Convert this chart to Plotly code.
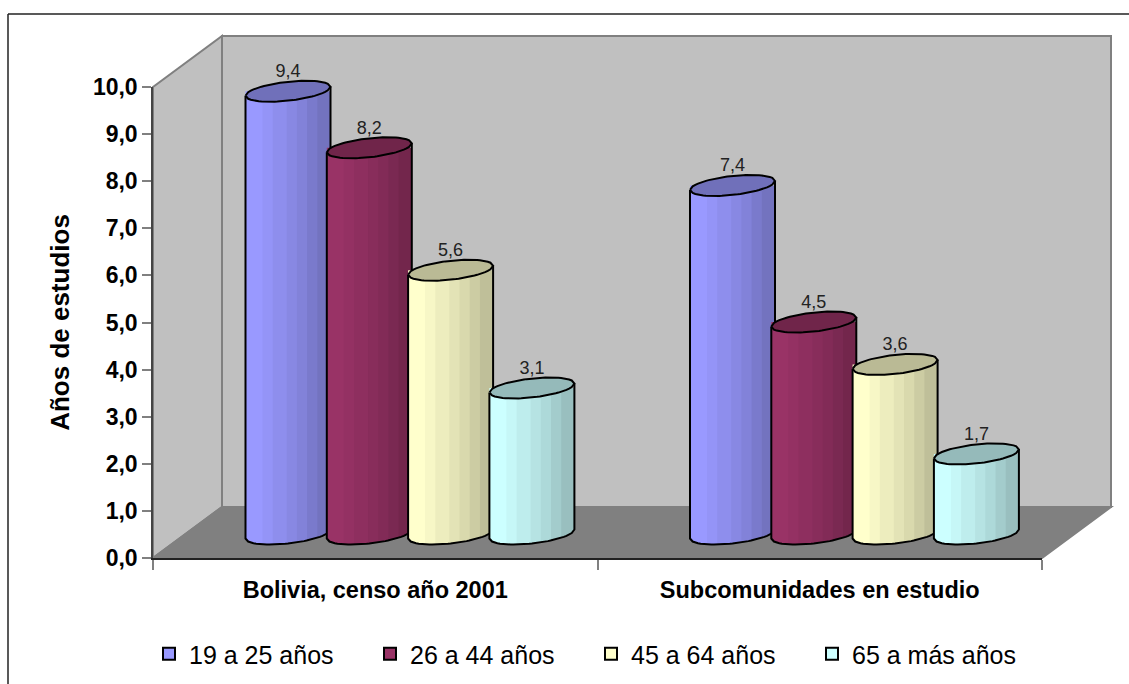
import plotly.graph_objects as go

categories = ["Bolivia, censo año 2001", "Subcomunidades en estudio"]
series_names = ["19 a 25 años", "26 a 44 años", "45 a 64 años", "65 a más años"]
values_19_25 = [9.4, 7.4]
values_26_44 = [8.2, 4.5]
values_45_64 = [5.6, 3.6]
values_65_mas = [3.1, 1.7]
all_values = [values_19_25, values_26_44, values_45_64, values_65_mas]
base_rgb = [(153, 153, 255), (153, 51, 102), (255, 255, 204), (204, 255, 255)]
y_ticks = [0, 1, 2, 3, 4, 5, 6, 7, 8, 9, 10]
y_tick_labels = ["0,0", "1,0", "2,0", "3,0", "4,0", "5,0", "6,0", "7,0", "8,0", "9,0", "10,0"]
band_edges = [-1.0, -0.57, -0.33, 0.0, 0.24, 0.48, 0.72, 1.0]
band_shades = [1.0, 0.97, 0.93, 0.89, 0.85, 0.80, 0.75]
cap_shade = 0.73

W, H = 1129, 684
L, R, T, B = 153, 87, 36, 126
PW, PH = W - L - R, H - T - B
FRONT_H = 471            # pixel height of the front y axis (0 to 10)
PX_X = PW / 2.0
PX_Y = FRONT_H / 10.0
DX, DY = 69 / PW, 51 / PH   # depth offset of the 3D box, in paper units
FT = FRONT_H / PH        # paper height of the value 10 on the front axis

A = 42.5 / PX_X          # cylinder half width (x units)
SK = 4.5 / PX_Y          # ellipse tilt (y units)
EH = 9.5 / PX_Y          # ellipse half height (y units)
FLOOR = 24.0 / PX_Y      # base-centre height over the front axis
N = 32


def shade(rgb, f):
    return "rgb(%d,%d,%d)" % tuple(round(c * f) for c in rgb)


def center_x(g, s):
    return g + (135.0 + 81.3 * s) / PX_X


def lower(u):
    return SK * u - EH * max(0.0, 1 - u * u) ** 0.5


def upper(u):
    return SK * u + EH * max(0.0, 1 - u * u) ** 0.5


def lin(a, b, n):
    return [a + (b - a) * i / n for i in range(n + 1)]


fig = go.Figure()

# underlying bars carry the values and the legend swatches
for s, name in enumerate(series_names):
    fig.add_trace(go.Bar(
        x=[center_x(g, s) for g in range(2)], y=all_values[s],
        base=FLOOR, width=2 * A * 0.86, name=name,
        marker=dict(color=shade(base_rgb[s], 1.0), line=dict(color="black", width=2)),
        hoverinfo="skip"))

for s in range(4):
    vals = all_values[s]
    for b, f in enumerate(band_shades):
        e0 = band_edges[b] - (0.03 if b else 0.0)
        e1 = band_edges[b + 1]
        xs, ys = [], []
        for g, v in enumerate(vals):
            cx = center_x(g, s)
            us = lin(e0, e1, 6)
            xs += [cx + A * u for u in us] + [cx + A * e1, cx + A * e0, cx + A * e0, None]
            ys += [FLOOR + lower(u) for u in us] + [FLOOR + v, FLOOR + v, FLOOR + lower(e0), None]
        fig.add_trace(go.Scatter(x=xs, y=ys, yaxis="y2", mode="lines", fill="toself",
                                 fillcolor=shade(base_rgb[s], f),
                                 line=dict(width=0), showlegend=False, hoverinfo="skip"))
    xo, yo, xc, yc = [], [], [], []
    for g, v in enumerate(vals):
        cx = center_x(g, s)
        us = lin(-1, 1, N)
        xo += [cx - A] + [cx + A * u for u in us] + [cx + A, None]
        yo += [FLOOR + v - SK] + [FLOOR + lower(u) for u in us] + [FLOOR + v + SK, None]
        xc += [cx + A * u for u in us] + [cx + A * u for u in reversed(us)] + [None]
        yc += [FLOOR + v + lower(u) for u in us] + [FLOOR + v + upper(u) for u in reversed(us)] + [None]
    fig.add_trace(go.Scatter(x=xo, y=yo, yaxis="y2", mode="lines", line=dict(color="black", width=2),
                             showlegend=False, hoverinfo="skip"))
    fig.add_trace(go.Scatter(x=xc, y=yc, yaxis="y2", mode="lines", fill="toself",
                             fillcolor=shade(base_rgb[s], cap_shade),
                             line=dict(color="black", width=2),
                             showlegend=False, hoverinfo="skip"))

# value labels
for s in range(4):
    vals = all_values[s]
    fig.add_trace(go.Scatter(
        x=[center_x(g, s) for g in range(2)],
        y=[FLOOR + v + EH for v in vals], yaxis="y2",
        mode="text", text=[("%.1f" % v).replace(".", ",") for v in vals],
        textposition="top center", textfont=dict(family="Liberation Sans", size=18, color="#222222"),
        showlegend=False, hoverinfo="skip"))


def poly(pts, fill, line=None, lw=2):
    d = "M" + " L".join("%f,%f" % p for p in pts) + " Z"
    return dict(type="path", path=d, xref="paper", yref="paper", layer="below", fillcolor=fill,
                line=dict(color=line or fill, width=lw if line else 0))


shapes = [
    poly([(0, 0), (DX, DY), (DX, 1), (0, FT)], "#C0C0C0", "#808080"),
    poly([(DX, DY), (1 + DX, DY), (1 + DX, 1), (DX, 1)], "#C0C0C0", "#808080"),
    poly([(0, 0), (1, 0), (1 + DX, DY), (DX, DY)], "#808080", "#808080"),
]
# outer chart frame (top and left edges only are inside the picture)
fx0, fy0 = (8 - L) / PW, (H - B - 14) / PH
shapes += [
    dict(type="line", xref="paper", yref="paper", x0=fx0, x1=(W - L) / PW, y0=fy0, y1=fy0,
         line=dict(color="#222222", width=1.5), layer="below"),
    dict(type="line", xref="paper", yref="paper", x0=fx0, x1=fx0, y0=fy0, y1=(H - B - 684) / PH,
         line=dict(color="#222222", width=1.5), layer="below"),
]

fig.update_layout(
    width=W, height=H, margin=dict(l=L, r=R, t=T, b=B, autoexpand=False), paper_bgcolor="white",
    plot_bgcolor="rgba(0,0,0,0)",
    barmode="overlay", shapes=shapes, font=dict(family="Liberation Sans", color="black"),
    legend=dict(orientation="h", x=(149 - L) / PW, xanchor="left", y=-(631 - 558) / PH, yanchor="top",
                entrywidth=176, entrywidthmode="pixels", font=dict(size=25), traceorder="normal",
                itemclick=False, bgcolor="rgba(0,0,0,0)"),
    xaxis=dict(range=[0, 2], tickvals=[0.5, 1.5], ticktext=categories, ticks="", showgrid=False, zeroline=False,
               showline=True, linecolor="#222222", linewidth=2,
               minor=dict(tickvals=[0, 1, 2], ticks="outside", ticklen=10, tickcolor="#808080", tickwidth=1.5, showgrid=False),
               tickfont=dict(size=23.5, family="Liberation Sans", color="black", weight="bold"), ticklabelstandoff=10),
    yaxis=dict(domain=[0, FT], range=[0, 10], tickvals=y_ticks, ticktext=y_tick_labels, ticks="outside", ticklen=9,
               tickcolor="#808080", tickwidth=1.5, showgrid=False, zeroline=False, showline=True,
               linecolor="#444444", linewidth=1.5,
               tickfont=dict(size=23, family="Liberation Sans", color="black", weight="bold"),
               title=dict(text="<b>Años de estudios</b>", font=dict(size=26, family="Liberation Sans", color="black"), standoff=16)),
    # same scale as yaxis, taller domain so cylinder caps and labels near 10 stay visible
    yaxis2=dict(domain=[0, 1], range=[0, 10 * PH / FRONT_H], anchor="x", visible=False),
)

fig.write_html("out.html", config={"displayModeBar": False},
               post_script="document.body.style.margin='0';document.documentElement.style.overflow='hidden';")
